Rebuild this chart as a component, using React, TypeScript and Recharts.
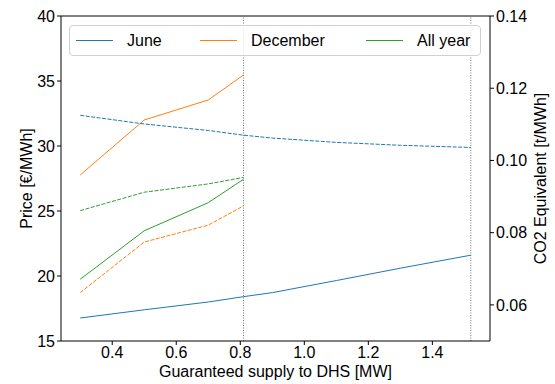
import { LineChart, Line, XAxis, YAxis, ReferenceLine } from 'recharts';

// x positions (MW) for each run
const juneX = [0.3, 0.5, 0.7, 0.81, 0.9, 1.1, 1.3, 1.52];
const winterX = [0.3, 0.5, 0.7, 0.81];

// price [€/MWh], left axis
const junePrice = [16.77, 17.4, 18.0, 18.41, 18.72, 19.65, 20.6, 21.6];
const decPrice = [27.77, 32.0, 33.54, 35.46];
const yearPrice = [19.75, 23.48, 25.64, 27.44];

// CO2 equivalent [t/MWh], right axis
const juneCo2 = [0.1125, 0.1101, 0.1083, 0.107, 0.1062, 0.105, 0.1042, 0.1036];
const decCo2 = [0.0634, 0.0774, 0.0821, 0.0874];
const yearCo2 = [0.0861, 0.0912, 0.0935, 0.0953];

const limitX = [0.81, 1.52];
const xTicks = [0.4, 0.6, 0.8, 1.0, 1.2, 1.4];
const priceTicks = [15, 20, 25, 30, 35, 40];
const co2Ticks = [0.06, 0.08, 0.1, 0.12, 0.14];

const BLUE = '#1f77b4';
const ORANGE = '#ff7f0e';
const GREEN = '#2ca02c';

const FONT = "'Liberation Sans', Arial, sans-serif";
const tick = { fontFamily: FONT, fontSize: 16, fill: '#000' };

const rows = (xs: number[], ys: number[]) => xs.map((x, i) => ({ x, y: ys[i] }));

const legendItems = [
  { name: 'June', color: BLUE },
  { name: 'December', color: ORANGE },
  { name: 'All year', color: GREEN },
];

export default function App() {
  return (
    <div style={{ position: 'relative', width: 555, height: 384, background: '#fff' }}>
      <style>{'body { margin: 0; }'}</style>
      <LineChart width={555} height={384} margin={{ top: 16, right: 0, bottom: 0, left: 0 }} style={{ overflow: 'visible' }}>
        <XAxis
          type="number" dataKey="x" domain={[0.24, 1.58]} ticks={xTicks} allowDataOverflow
          tickFormatter={(v) => v.toFixed(1)} tick={tick} tickSize={4} tickMargin={2}
          height={43} stroke="#000"
        />
        <YAxis
          yAxisId="price" type="number" domain={[15, 40]} ticks={priceTicks} allowDataOverflow
          tick={tick} tickSize={4} tickMargin={2} width={61} stroke="#000"
          label={{ value: 'Price [€/MWh]', angle: -90, position: 'insideLeft', offset: 26, style: { ...tick, textAnchor: 'middle' } }}
        />
        <YAxis
          yAxisId="co2" orientation="right" type="number" domain={[0.05, 0.14]} ticks={co2Ticks} allowDataOverflow
          tickFormatter={(v) => v.toFixed(2)} tick={tick} tickSize={4} tickMargin={2} width={65} stroke="#000"
          label={{ value: 'CO2 Equivalent [t/MWh]', angle: -90, position: 'insideRight', offset: 15, style: { ...tick, textAnchor: 'middle' } }}
        />
        <ReferenceLine yAxisId="price" y={40} stroke="#000" strokeWidth={1} />
        {limitX.map((x) => (
          <ReferenceLine key={x} yAxisId="price" x={x} stroke="#777" strokeWidth={1} strokeDasharray="1 1.5" />
        ))}

        <Line yAxisId="price" data={rows(juneX, junePrice)} dataKey="y" stroke={BLUE} strokeWidth={1} dot={false} isAnimationActive={false} />
        <Line yAxisId="price" data={rows(winterX, decPrice)} dataKey="y" stroke={ORANGE} strokeWidth={1} dot={false} isAnimationActive={false} />
        <Line yAxisId="price" data={rows(winterX, yearPrice)} dataKey="y" stroke={GREEN} strokeWidth={1} dot={false} isAnimationActive={false} />

        <Line yAxisId="co2" data={rows(juneX, juneCo2)} dataKey="y" stroke={BLUE} strokeWidth={1} strokeDasharray="4 1.5" dot={false} isAnimationActive={false} />
        <Line yAxisId="co2" data={rows(winterX, decCo2)} dataKey="y" stroke={ORANGE} strokeWidth={1} strokeDasharray="4 1.5" dot={false} isAnimationActive={false} />
        <Line yAxisId="co2" data={rows(winterX, yearCo2)} dataKey="y" stroke={GREEN} strokeWidth={1} strokeDasharray="4 1.5" dot={false} isAnimationActive={false} />
      </LineChart>

      <div
        style={{
          position: 'absolute', left: 0, top: 363, width: 551, textAlign: 'center',
          fontFamily: FONT, fontSize: 16, lineHeight: '18px', color: '#000',
        }}
      >
        Guaranteed supply to DHS [MW]
      </div>

      <div
        style={{
          position: 'absolute', left: 69, top: 25, width: 412, height: 31, boxSizing: 'border-box',
          border: '1px solid #d0d0d0', borderRadius: 4, background: 'rgba(255,255,255,0.8)',
          fontFamily: FONT, fontSize: 16, color: '#000',
        }}
      >
        {legendItems.map((item, i) => (
          <div key={item.name} style={{ position: 'absolute', left: [6, 130, 296][i], top: 0, height: 29, display: 'flex', alignItems: 'center' }}>
            <span style={{ display: 'inline-block', width: 37, height: 1, background: item.color, marginRight: 14 }} />
            <span>{item.name}</span>
          </div>
        ))}
      </div>
    </div>
  );
}
